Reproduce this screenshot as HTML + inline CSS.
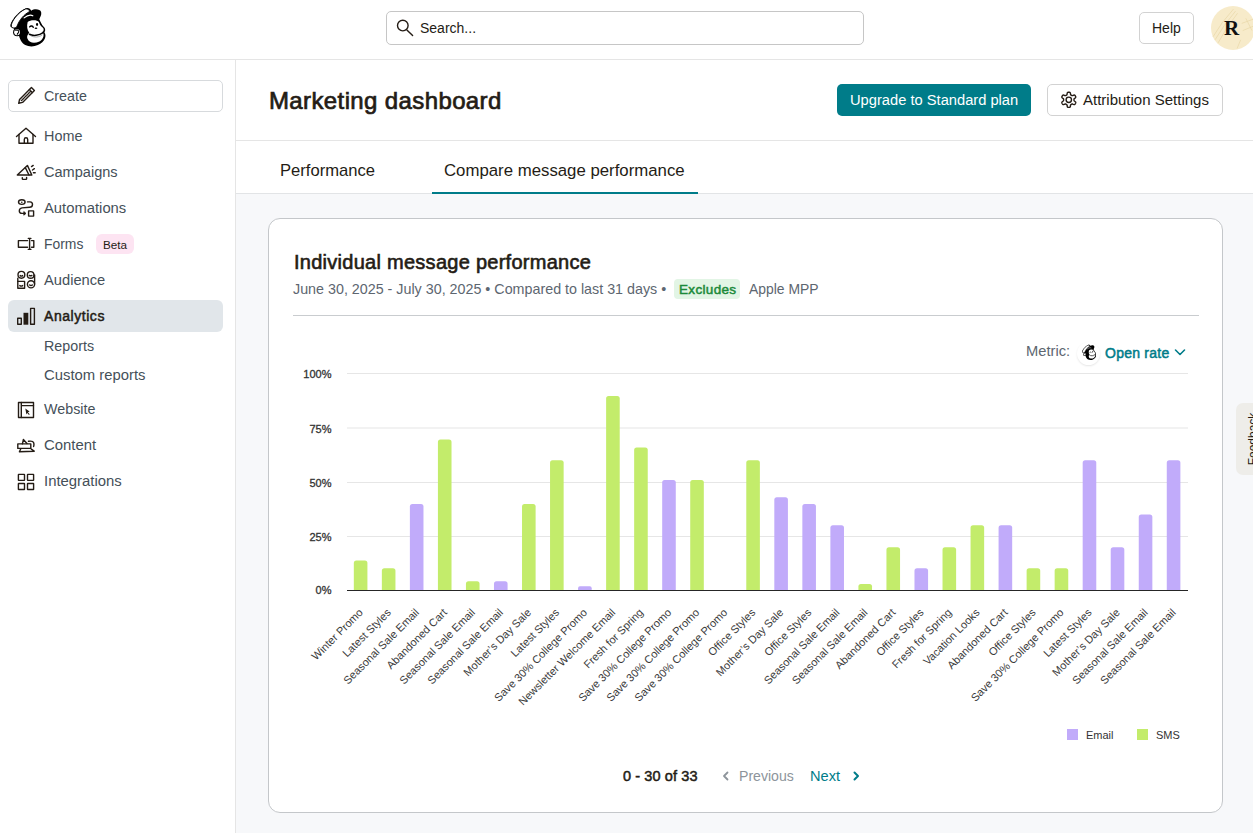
<!DOCTYPE html>
<html><head><meta charset="utf-8">
<style>
*{box-sizing:border-box;margin:0;padding:0}
html,body{width:1253px;height:833px;overflow:hidden;background:#fff;font-family:"Liberation Sans",sans-serif;color:#241c15}
.abs{position:absolute}
.t{position:absolute;white-space:nowrap;line-height:1}
</style></head><body>
<div class="abs" style="left:236px;top:194px;width:1017px;height:639px;background:#f7f8fa"></div>
<div class="abs" style="left:0px;top:59px;width:1253px;height:1px;background:#e5e5e5"></div>
<div class="abs" style="left:235px;top:60px;width:1px;height:773px;background:#e5e5e5"></div>
<div class="abs" style="left:236px;top:140px;width:1017px;height:1px;background:#e5e5e5"></div>
<div class="abs" style="left:236px;top:193px;width:1017px;height:1px;background:#e2e4e6"></div>
<div class="abs" style="left:386px;top:11px;width:478px;height:34px;border:1px solid #c6c6c6;border-radius:5px"></div>
<div class="t" style="left:420px;top:21px;font-size:14px;color:#241c15">Search...</div>
<div class="abs" style="left:1139px;top:12px;width:55px;height:32px;border:1px solid #d2d2d2;border-radius:5px"></div>
<div class="t" style="left:1152px;top:21px;font-size:14px;color:#241c15">Help</div>
<div class="abs" style="left:1211px;top:6px;width:44px;height:44px;border-radius:50%;background:#f7ebca"></div>
<div class="abs" style="left:1210px;top:6px;width:43px;height:43px;border-radius:50%;overflow:hidden;background:transparent"></div>
<svg class="abs" style="left:1211px;top:6px" width="44" height="44" viewBox="0 0 43 43"><g fill="none" stroke="#e9d8a8" stroke-width="0.7"><path d="M2 30 Q10 16 22 3"/><path d="M4 33 Q12 19 24 5"/><path d="M7 36 Q14 22 26 7"/><path d="M30 17 L41 13 M34 12 L40 24 M31 24 L42 19.5"/><path d="M25.5 41.5 L29 33"/></g></svg>
<div class="t" style="left:1224px;top:18px;font-size:21px;color:#111;font-weight:bold;font-family:'Liberation Serif',serif">R</div>
<div class="t" style="left:269px;top:89px;font-size:24px;color:#241c15;letter-spacing:0.38px;-webkit-text-stroke:0.7px #241c15">Marketing dashboard</div>
<div class="abs" style="left:837px;top:84px;width:194px;height:32px;border-radius:5px;background:#007c89"></div>
<div class="t" style="left:850px;top:93px;font-size:14.7px;color:#fff">Upgrade to Standard plan</div>
<div class="abs" style="left:1047px;top:84px;width:176px;height:32px;border:1px solid #d2d2d2;border-radius:5px;background:#fff"></div>
<div class="t" style="left:1083px;top:92px;font-size:15px;color:#241c15">Attribution Settings</div>
<div class="t" style="left:280px;top:163px;font-size:16.6px;color:#241c15">Performance</div>
<div class="t" style="left:444px;top:163px;font-size:16.8px;color:#241c15">Compare message performance</div>
<div class="abs" style="left:432px;top:192px;width:266px;height:2px;background:#007c89"></div>
<div class="abs" style="left:8px;top:80px;width:215px;height:32px;border:1px solid #d7dadd;border-radius:5px"></div>
<div class="abs" style="left:8px;top:300px;width:215px;height:32px;border-radius:6px;background:#e1e6ea"></div>
<div class="t" style="left:44px;top:89px;font-size:14.3px;color:#455059">Create</div>
<div class="t" style="left:44px;top:129px;font-size:14.4px;color:#455059">Home</div>
<div class="t" style="left:44px;top:165px;font-size:14.55px;color:#455059">Campaigns</div>
<div class="t" style="left:44px;top:201px;font-size:14.8px;color:#455059">Automations</div>
<div class="t" style="left:44px;top:238px;font-size:13.9px;color:#455059">Forms</div>
<div class="t" style="left:44px;top:273px;font-size:14.7px;color:#455059">Audience</div>
<div class="t" style="left:44px;top:339px;font-size:14.3px;color:#455059">Reports</div>
<div class="t" style="left:44px;top:368px;font-size:14.85px;color:#455059">Custom reports</div>
<div class="t" style="left:44px;top:402px;font-size:14.3px;color:#455059">Website</div>
<div class="t" style="left:44px;top:438px;font-size:14.9px;color:#455059">Content</div>
<div class="t" style="left:44px;top:474px;font-size:14.9px;color:#455059">Integrations</div>
<div class="t" style="left:44px;top:309px;font-size:14px;color:#241c15;letter-spacing:0.55px;-webkit-text-stroke:0.5px #241c15">Analytics</div>
<div class="abs" style="left:96px;top:234px;width:38px;height:20px;border-radius:6px;background:#fde4f2"></div>
<div class="t" style="left:103px;top:239px;font-size:11.7px;color:#241c15">Beta</div>
<div class="abs" style="left:268px;top:218px;width:955px;height:595px;background:#fff;border:1px solid #c4c7ca;border-radius:12px"></div>
<div class="t" style="left:294px;top:252px;font-size:20px;color:#241c15;letter-spacing:0.27px;-webkit-text-stroke:0.6px #241c15">Individual message performance</div>
<div class="t" style="left:293px;top:282px;font-size:14.3px;color:#5d6670">June 30, 2025 - July 30, 2025 &bull; Compared to last 31 days &bull;</div>
<div class="abs" style="left:674px;top:279px;width:66px;height:20px;border-radius:4px;background:#e2f5e5"></div>
<div class="t" style="left:679px;top:283px;font-size:13.5px;color:#1b8a3a;letter-spacing:0.33px;-webkit-text-stroke:0.5px #1b8a3a">Excludes</div>
<div class="t" style="left:749px;top:283px;font-size:13.9px;color:#5d6670">Apple MPP</div>
<div class="abs" style="left:293px;top:315px;width:906px;height:1px;background:#c9cccf"></div>
<div class="t" style="left:1026px;top:344px;font-size:14.7px;color:#5d6670">Metric:</div>
<div class="abs" style="left:1077px;top:342px;width:23px;height:23px;border-radius:50%;background:#fff;box-shadow:0 1px 2px rgba(0,0,0,0.10)"></div>
<div class="t" style="left:1105px;top:346px;font-size:14px;color:#007c89;letter-spacing:0.24px;-webkit-text-stroke:0.5px #007c89">Open rate</div>
<div class="abs" style="left:1067px;top:729px;width:11px;height:11px;background:#c1abfa"></div>
<div class="t" style="left:1086px;top:730px;font-size:11px;color:#333">Email</div>
<div class="abs" style="left:1137px;top:729px;width:11px;height:11px;background:#c3ec6b"></div>
<div class="t" style="left:1156px;top:730px;font-size:11px;color:#333">SMS</div>
<div class="t" style="left:623px;top:769px;font-size:14.5px;color:#241c15;letter-spacing:0.1px;-webkit-text-stroke:0.5px #241c15">0 - 30 of 33</div>
<div class="t" style="left:739px;top:769px;font-size:14.1px;color:#8d949b">Previous</div>
<div class="t" style="left:810px;top:769px;font-size:14.6px;color:#007c89">Next</div>
<div class="abs" style="left:1236px;top:403px;width:30px;height:72px;border-radius:7px;background:#eeede9"></div>
<div class="t" style="left:1202.5px;top:432.5px;font-size:12px;color:#241c15;width:100px;text-align:center;transform:rotate(-90deg)">Feedback</div>
<svg class="abs" style="left:0;top:0" width="1253" height="833" viewBox="0 0 1253 833" font-family="Liberation Sans, sans-serif"><circle cx="402.8" cy="25.6" r="5.3" fill="none" stroke="#241c15" stroke-width="1.4" stroke-linecap="round" stroke-linejoin="round" stroke-width="1.6"/><path d="M406.9 29.9 L412.6 35.6" fill="none" stroke="#241c15" stroke-width="1.4" stroke-linecap="round" stroke-linejoin="round" stroke-width="1.7"/>
<path d="M1074.00 99.80 L1074.00 100.03 L1074.00 100.26 L1074.03 100.49 L1074.13 100.74 L1074.43 101.05 L1074.98 101.46 L1075.51 101.91 L1075.74 102.33 L1075.75 102.68 L1075.67 103.00 L1075.54 103.31 L1075.38 103.60 L1075.21 103.88 L1075.01 104.15 L1074.77 104.38 L1074.46 104.55 L1073.99 104.55 L1073.33 104.33 L1072.70 104.05 L1072.28 103.95 L1072.01 103.98 L1071.80 104.08 L1071.60 104.19 L1071.40 104.30 L1071.20 104.42 L1071.01 104.53 L1070.82 104.67 L1070.65 104.89 L1070.53 105.30 L1070.46 105.98 L1070.32 106.67 L1070.08 107.07 L1069.78 107.26 L1069.46 107.35 L1069.13 107.39 L1068.80 107.40 L1068.47 107.39 L1068.14 107.35 L1067.82 107.26 L1067.52 107.07 L1067.28 106.67 L1067.14 105.98 L1067.07 105.30 L1066.95 104.89 L1066.78 104.67 L1066.59 104.53 L1066.40 104.42 L1066.20 104.30 L1066.00 104.19 L1065.80 104.08 L1065.59 103.98 L1065.32 103.95 L1064.90 104.05 L1064.27 104.33 L1063.61 104.55 L1063.14 104.55 L1062.83 104.38 L1062.59 104.15 L1062.39 103.88 L1062.22 103.60 L1062.06 103.31 L1061.93 103.00 L1061.85 102.68 L1061.86 102.33 L1062.09 101.91 L1062.62 101.46 L1063.17 101.05 L1063.47 100.74 L1063.57 100.49 L1063.60 100.26 L1063.60 100.03 L1063.60 99.80 L1063.60 99.57 L1063.60 99.34 L1063.57 99.11 L1063.47 98.86 L1063.17 98.55 L1062.62 98.14 L1062.09 97.69 L1061.86 97.27 L1061.85 96.92 L1061.93 96.60 L1062.06 96.29 L1062.22 96.00 L1062.39 95.72 L1062.59 95.45 L1062.83 95.22 L1063.14 95.05 L1063.61 95.05 L1064.27 95.27 L1064.90 95.55 L1065.32 95.65 L1065.59 95.62 L1065.80 95.52 L1066.00 95.41 L1066.20 95.30 L1066.40 95.18 L1066.59 95.07 L1066.78 94.93 L1066.95 94.71 L1067.07 94.30 L1067.14 93.62 L1067.28 92.93 L1067.52 92.53 L1067.82 92.34 L1068.14 92.25 L1068.47 92.21 L1068.80 92.20 L1069.13 92.21 L1069.46 92.25 L1069.78 92.34 L1070.08 92.53 L1070.32 92.93 L1070.46 93.62 L1070.53 94.30 L1070.65 94.71 L1070.82 94.93 L1071.01 95.07 L1071.20 95.18 L1071.40 95.30 L1071.60 95.41 L1071.80 95.52 L1072.01 95.62 L1072.28 95.65 L1072.70 95.55 L1073.33 95.27 L1073.99 95.05 L1074.46 95.05 L1074.77 95.22 L1075.01 95.45 L1075.21 95.72 L1075.38 96.00 L1075.54 96.29 L1075.67 96.60 L1075.75 96.92 L1075.74 97.27 L1075.51 97.69 L1074.98 98.14 L1074.43 98.55 L1074.13 98.86 L1074.03 99.11 L1074.00 99.34 L1074.00 99.57 Z" fill="none" stroke="#241c15" stroke-width="1.4" stroke-linecap="round" stroke-linejoin="round" stroke-width="1.6"/><circle cx="1068.8" cy="99.8" r="2.7" fill="none" stroke="#241c15" stroke-width="1.4" stroke-linecap="round" stroke-linejoin="round" stroke-width="1.6"/>
<path d="M1175.5 350 L1180 354.5 L1184.5 350" fill="none" stroke="#007c89" stroke-width="1.6" stroke-linecap="round" stroke-linejoin="round"/>
<path d="M727.5 772.5 L724 776 L727.5 779.5" fill="none" stroke="#8d949b" stroke-width="1.8" stroke-linecap="round" stroke-linejoin="round"/>
<path d="M854.5 772.5 L858 776 L854.5 779.5" fill="none" stroke="#007c89" stroke-width="2" stroke-linecap="round" stroke-linejoin="round"/>
<g transform="translate(26 96) rotate(-45)"><path d="M-10.3 0 L-7 -2.1 H9.8 V2.1 H-7 Z" fill="none" stroke="#241c15" stroke-width="1.4" stroke-linecap="round" stroke-linejoin="round" stroke-width="1.2"/><path d="M7 -2.1 V2.1 M-6.5 0 H6.5" fill="none" stroke="#241c15" stroke-width="1.4" stroke-linecap="round" stroke-linejoin="round" stroke-width="0.9" stroke-dasharray="1 1"/></g>
<path d="M16.5 136.5 L26 128.2 L35.5 136.5" fill="none" stroke="#241c15" stroke-width="1.4" stroke-linecap="round" stroke-linejoin="round"/><path d="M19 134.5 V143.3 H33 V134.5" fill="none" stroke="#241c15" stroke-width="1.4" stroke-linecap="round" stroke-linejoin="round"/><path d="M24.3 143.3 V139.4 A1.7 1.7 0 0 1 27.7 139.4 V143.3" fill="none" stroke="#241c15" stroke-width="1.4" stroke-linecap="round" stroke-linejoin="round" stroke-width="1.3"/>
<path d="M17.3 175 L27.4 165.4 L31.8 175 Z" fill="none" stroke="#241c15" stroke-width="1.4" stroke-linecap="round" stroke-linejoin="round"/><path d="M25.3 167.6 L29 175" fill="none" stroke="#241c15" stroke-width="1.4" stroke-linecap="round" stroke-linejoin="round" stroke-width="1.2"/><path d="M22.3 177.6 V178.8 Q22.3 179.4 23 179.4 H26 Q26.6 179.4 26.6 178.8 V177.4" fill="none" stroke="#241c15" stroke-width="1.4" stroke-linecap="round" stroke-linejoin="round" stroke-width="1.2"/><path d="M31.5 166.6 L33.2 165.4 M32.5 170 L34.4 168.7 M33.4 172.7 H35.2" fill="none" stroke="#241c15" stroke-width="1.4" stroke-linecap="round" stroke-linejoin="round" stroke-width="1.2"/>
<ellipse cx="21.8" cy="202.1" rx="3.3" ry="2.3" fill="none" stroke="#241c15" stroke-width="1.4" stroke-linecap="round" stroke-linejoin="round" stroke-width="1.3"/><circle cx="21.8" cy="202.3" r="0.8" fill="#241c15"/><path d="M27.5 201.9 H30 Q32.6 202 32.5 204.6 Q32.3 207.2 29.6 207.3 L22 207.9 Q19.3 208.3 19.3 211 Q19.3 213.4 22 213.4 H24.5" fill="none" stroke="#241c15" stroke-width="1.4" stroke-linecap="round" stroke-linejoin="round" stroke-width="1.3"/><path d="M23.8 211.6 L26 213.4 L23.8 215.2 Z" fill="#241c15" stroke="#241c15" stroke-width="0.8" stroke-linejoin="round"/><rect x="28.6" y="210.9" width="5" height="5.2" fill="none" stroke="#241c15" stroke-width="1.4" stroke-linecap="round" stroke-linejoin="round" stroke-width="1.3"/>
<path d="M27.6 240.6 H18.4 V247.2 H27.6" fill="none" stroke="#241c15" stroke-width="1.4" stroke-linecap="round" stroke-linejoin="round" stroke-width="1.4"/><path d="M29.6 238.6 V249.2 M28.3 238.4 H30.9 M28.3 249.4 H30.9" fill="none" stroke="#241c15" stroke-width="1.4" stroke-linecap="round" stroke-linejoin="round" stroke-width="1.2"/><path d="M31.5 240.6 H33.8 V247.2 H31.5" fill="none" stroke="#241c15" stroke-width="1.4" stroke-linecap="round" stroke-linejoin="round" stroke-width="1.4"/>
<circle cx="21.4" cy="274.8" r="3.4" fill="none" stroke="#241c15" stroke-width="1.4" stroke-linecap="round" stroke-linejoin="round" stroke-width="1.3"/><circle cx="30.6" cy="274.9" r="3.3" fill="none" stroke="#241c15" stroke-width="1.4" stroke-linecap="round" stroke-linejoin="round" stroke-width="1.3"/><rect x="17.8" y="281.4" width="6.8" height="6.8" fill="none" stroke="#241c15" stroke-width="1.4" stroke-linecap="round" stroke-linejoin="round" stroke-width="1.3"/><circle cx="31" cy="284.3" r="3.6" fill="none" stroke="#241c15" stroke-width="1.4" stroke-linecap="round" stroke-linejoin="round" stroke-width="1.3"/><path d="M20.2 275.6 Q21.4 276.6 22.6 275.6 M29.3 275.4 Q30.6 276.2 31.9 275.4 M19.8 285.6 Q21.2 286.6 22.6 285.6 M29.6 285 Q31 286 32.4 285" fill="none" stroke="#241c15" stroke-width="1.4" stroke-linecap="round" stroke-linejoin="round" stroke-width="1"/><path d="M17.8 278.2 V281.4 M34.6 274.9 V284" fill="none" stroke="#241c15" stroke-width="1.4" stroke-linecap="round" stroke-linejoin="round" stroke-width="1.2"/>
<rect x="17.7" y="318.3" width="3.6" height="6" fill="none" stroke="#241c15" stroke-width="1.4" stroke-linecap="round" stroke-linejoin="round" stroke-width="1.3" stroke-linejoin="miter"/><rect x="23.5" y="312.8" width="4.8" height="11.9" fill="#241c15"/><rect x="30.6" y="308.4" width="3.8" height="15.9" fill="none" stroke="#241c15" stroke-width="1.4" stroke-linecap="round" stroke-linejoin="round" stroke-width="1.3" stroke-linejoin="miter"/>
<rect x="18.5" y="402.5" width="15" height="15" fill="none" stroke="#241c15" stroke-width="1.4" stroke-linecap="round" stroke-linejoin="round" stroke-width="1.4"/><path d="M21.3 402.5 V417.5 M21.3 405.6 H33.5" fill="none" stroke="#241c15" stroke-width="1.4" stroke-linecap="round" stroke-linejoin="round" stroke-width="1.3"/><path d="M25.3 408.4 L29.6 411.6 L27.9 412.3 L29.7 414.3 L29 414.9 L27.2 412.9 L26.4 414.4 Z" fill="#241c15"/>
<rect x="17.8" y="443.9" width="13" height="4.5" fill="none" stroke="#241c15" stroke-width="1.4" stroke-linecap="round" stroke-linejoin="round" stroke-width="1.4"/><path d="M22.4 443.8 L23.4 439.5 L27 443.5" fill="none" stroke="#241c15" stroke-width="1.4" stroke-linecap="round" stroke-linejoin="round" stroke-width="1.3"/><path d="M28.5 441.3 Q33 440.5 33.8 443 Q34.2 445 33.6 446.6" fill="none" stroke="#241c15" stroke-width="1.4" stroke-linecap="round" stroke-linejoin="round" stroke-width="1.2"/><path d="M20.6 449.2 L19.4 451.8 L34.2 451.2 L31.3 449.2" fill="none" stroke="#241c15" stroke-width="1.4" stroke-linecap="round" stroke-linejoin="round" stroke-width="1.3"/>
<rect x="18.4" y="474.4" width="6.1" height="6" fill="none" stroke="#241c15" stroke-width="1.4" stroke-linecap="round" stroke-linejoin="round" stroke-width="1.4" rx="0.3"/>
<rect x="27.5" y="474.4" width="6.1" height="6" fill="none" stroke="#241c15" stroke-width="1.4" stroke-linecap="round" stroke-linejoin="round" stroke-width="1.4" rx="0.3"/>
<rect x="18.4" y="483.5" width="6.1" height="6" fill="none" stroke="#241c15" stroke-width="1.4" stroke-linecap="round" stroke-linejoin="round" stroke-width="1.4" rx="0.3"/>
<rect x="27.5" y="483.5" width="6.1" height="6" fill="none" stroke="#241c15" stroke-width="1.4" stroke-linecap="round" stroke-linejoin="round" stroke-width="1.4" rx="0.3"/>
<rect x="347" y="373.0" width="841" height="1" fill="#e6e6e6"/>
<rect x="347" y="427.5" width="841" height="1" fill="#e6e6e6"/>
<rect x="347" y="482.0" width="841" height="1" fill="#e6e6e6"/>
<rect x="347" y="536.0" width="841" height="1" fill="#e6e6e6"/>
<path d="M353.82 590.0 V562.90 Q353.82 560.40 356.32 560.40 H364.92 Q367.42 560.40 367.42 562.90 V590.0 Z" fill="#c3ec6b"/>
<path d="M381.85 590.0 V570.80 Q381.85 568.30 384.35 568.30 H392.95 Q395.45 568.30 395.45 570.80 V590.0 Z" fill="#c3ec6b"/>
<path d="M409.88 590.0 V506.60 Q409.88 504.10 412.38 504.10 H420.98 Q423.48 504.10 423.48 506.60 V590.0 Z" fill="#c1abfa"/>
<path d="M437.92 590.0 V441.90 Q437.92 439.40 440.42 439.40 H449.02 Q451.52 439.40 451.52 441.90 V590.0 Z" fill="#c3ec6b"/>
<path d="M465.95 590.0 V583.70 Q465.95 581.20 468.45 581.20 H477.05 Q479.55 581.20 479.55 583.70 V590.0 Z" fill="#c3ec6b"/>
<path d="M493.98 590.0 V583.70 Q493.98 581.20 496.48 581.20 H505.08 Q507.58 581.20 507.58 583.70 V590.0 Z" fill="#c1abfa"/>
<path d="M522.02 590.0 V506.60 Q522.02 504.10 524.52 504.10 H533.12 Q535.62 504.10 535.62 506.60 V590.0 Z" fill="#c3ec6b"/>
<path d="M550.05 590.0 V462.80 Q550.05 460.30 552.55 460.30 H561.15 Q563.65 460.30 563.65 462.80 V590.0 Z" fill="#c3ec6b"/>
<path d="M578.08 590.0 V588.15 Q578.08 586.30 579.93 586.30 H589.83 Q591.68 586.30 591.68 588.15 V590.0 Z" fill="#c1abfa"/>
<path d="M606.12 590.0 V398.60 Q606.12 396.10 608.62 396.10 H617.22 Q619.72 396.10 619.72 398.60 V590.0 Z" fill="#c3ec6b"/>
<path d="M634.15 590.0 V449.90 Q634.15 447.40 636.65 447.40 H645.25 Q647.75 447.40 647.75 449.90 V590.0 Z" fill="#c3ec6b"/>
<path d="M662.18 590.0 V482.60 Q662.18 480.10 664.68 480.10 H673.28 Q675.78 480.10 675.78 482.60 V590.0 Z" fill="#c1abfa"/>
<path d="M690.22 590.0 V482.60 Q690.22 480.10 692.72 480.10 H701.32 Q703.82 480.10 703.82 482.60 V590.0 Z" fill="#c3ec6b"/>
<path d="M746.28 590.0 V462.80 Q746.28 460.30 748.78 460.30 H757.38 Q759.88 460.30 759.88 462.80 V590.0 Z" fill="#c3ec6b"/>
<path d="M774.32 590.0 V499.80 Q774.32 497.30 776.82 497.30 H785.42 Q787.92 497.30 787.92 499.80 V590.0 Z" fill="#c1abfa"/>
<path d="M802.35 590.0 V506.60 Q802.35 504.10 804.85 504.10 H813.45 Q815.95 504.10 815.95 506.60 V590.0 Z" fill="#c1abfa"/>
<path d="M830.38 590.0 V527.80 Q830.38 525.30 832.88 525.30 H841.48 Q843.98 525.30 843.98 527.80 V590.0 Z" fill="#c1abfa"/>
<path d="M858.42 590.0 V586.60 Q858.42 584.10 860.92 584.10 H869.52 Q872.02 584.10 872.02 586.60 V590.0 Z" fill="#c3ec6b"/>
<path d="M886.45 590.0 V549.70 Q886.45 547.20 888.95 547.20 H897.55 Q900.05 547.20 900.05 549.70 V590.0 Z" fill="#c3ec6b"/>
<path d="M914.48 590.0 V570.80 Q914.48 568.30 916.98 568.30 H925.58 Q928.08 568.30 928.08 570.80 V590.0 Z" fill="#c1abfa"/>
<path d="M942.52 590.0 V549.70 Q942.52 547.20 945.02 547.20 H953.62 Q956.12 547.20 956.12 549.70 V590.0 Z" fill="#c3ec6b"/>
<path d="M970.55 590.0 V527.80 Q970.55 525.30 973.05 525.30 H981.65 Q984.15 525.30 984.15 527.80 V590.0 Z" fill="#c3ec6b"/>
<path d="M998.58 590.0 V527.80 Q998.58 525.30 1001.08 525.30 H1009.68 Q1012.18 525.30 1012.18 527.80 V590.0 Z" fill="#c1abfa"/>
<path d="M1026.62 590.0 V570.80 Q1026.62 568.30 1029.12 568.30 H1037.72 Q1040.22 568.30 1040.22 570.80 V590.0 Z" fill="#c3ec6b"/>
<path d="M1054.65 590.0 V570.80 Q1054.65 568.30 1057.15 568.30 H1065.75 Q1068.25 568.30 1068.25 570.80 V590.0 Z" fill="#c3ec6b"/>
<path d="M1082.68 590.0 V462.80 Q1082.68 460.30 1085.18 460.30 H1093.78 Q1096.28 460.30 1096.28 462.80 V590.0 Z" fill="#c1abfa"/>
<path d="M1110.72 590.0 V549.70 Q1110.72 547.20 1113.22 547.20 H1121.82 Q1124.32 547.20 1124.32 549.70 V590.0 Z" fill="#c1abfa"/>
<path d="M1138.75 590.0 V516.90 Q1138.75 514.40 1141.25 514.40 H1149.85 Q1152.35 514.40 1152.35 516.90 V590.0 Z" fill="#c1abfa"/>
<path d="M1166.78 590.0 V462.80 Q1166.78 460.30 1169.28 460.30 H1177.88 Q1180.38 460.30 1180.38 462.80 V590.0 Z" fill="#c1abfa"/>
<rect x="347" y="590" width="841" height="1" fill="#262626"/>
<text x="331.5" y="378.4" text-anchor="end" font-size="11" fill="#333" stroke="#333" stroke-width="0.3">100%</text>
<text x="331.5" y="432.9" text-anchor="end" font-size="11" fill="#333" stroke="#333" stroke-width="0.3">75%</text>
<text x="331.5" y="487.4" text-anchor="end" font-size="11" fill="#333" stroke="#333" stroke-width="0.3">50%</text>
<text x="331.5" y="541.4" text-anchor="end" font-size="11" fill="#333" stroke="#333" stroke-width="0.3">25%</text>
<text x="331.5" y="594.4" text-anchor="end" font-size="11" fill="#333" stroke="#333" stroke-width="0.3">0%</text>
<text transform="translate(363.62 613.2) rotate(-45)" text-anchor="end" font-size="11" fill="#3a3a3a">Winter Promo</text>
<text transform="translate(391.65 613.2) rotate(-45)" text-anchor="end" font-size="11" fill="#3a3a3a">Latest Styles</text>
<text transform="translate(419.68 613.2) rotate(-45)" text-anchor="end" font-size="11" fill="#3a3a3a">Seasonal Sale Email</text>
<text transform="translate(447.72 613.2) rotate(-45)" text-anchor="end" font-size="11" fill="#3a3a3a">Abandoned Cart</text>
<text transform="translate(475.75 613.2) rotate(-45)" text-anchor="end" font-size="11" fill="#3a3a3a">Seasonal Sale Email</text>
<text transform="translate(503.78 613.2) rotate(-45)" text-anchor="end" font-size="11" fill="#3a3a3a">Seasonal Sale Email</text>
<text transform="translate(531.82 613.2) rotate(-45)" text-anchor="end" font-size="11" fill="#3a3a3a">Mother&#8217;s Day Sale</text>
<text transform="translate(559.85 613.2) rotate(-45)" text-anchor="end" font-size="11" fill="#3a3a3a">Latest Styles</text>
<text transform="translate(587.88 613.2) rotate(-45)" text-anchor="end" font-size="11" fill="#3a3a3a">Save 30% College Promo</text>
<text transform="translate(615.92 613.2) rotate(-45)" text-anchor="end" font-size="11" fill="#3a3a3a">Newsletter Welcome Email</text>
<text transform="translate(643.95 613.2) rotate(-45)" text-anchor="end" font-size="11" fill="#3a3a3a">Fresh for Spring</text>
<text transform="translate(671.98 613.2) rotate(-45)" text-anchor="end" font-size="11" fill="#3a3a3a">Save 30% College Promo</text>
<text transform="translate(700.02 613.2) rotate(-45)" text-anchor="end" font-size="11" fill="#3a3a3a">Save 30% College Promo</text>
<text transform="translate(728.05 613.2) rotate(-45)" text-anchor="end" font-size="11" fill="#3a3a3a">Save 30% College Promo</text>
<text transform="translate(756.08 613.2) rotate(-45)" text-anchor="end" font-size="11" fill="#3a3a3a">Office Styles</text>
<text transform="translate(784.12 613.2) rotate(-45)" text-anchor="end" font-size="11" fill="#3a3a3a">Mother&#8217;s Day Sale</text>
<text transform="translate(812.15 613.2) rotate(-45)" text-anchor="end" font-size="11" fill="#3a3a3a">Office Styles</text>
<text transform="translate(840.18 613.2) rotate(-45)" text-anchor="end" font-size="11" fill="#3a3a3a">Seasonal Sale Email</text>
<text transform="translate(868.22 613.2) rotate(-45)" text-anchor="end" font-size="11" fill="#3a3a3a">Seasonal Sale Email</text>
<text transform="translate(896.25 613.2) rotate(-45)" text-anchor="end" font-size="11" fill="#3a3a3a">Abandoned Cart</text>
<text transform="translate(924.28 613.2) rotate(-45)" text-anchor="end" font-size="11" fill="#3a3a3a">Office Styles</text>
<text transform="translate(952.32 613.2) rotate(-45)" text-anchor="end" font-size="11" fill="#3a3a3a">Fresh for Spring</text>
<text transform="translate(980.35 613.2) rotate(-45)" text-anchor="end" font-size="11" fill="#3a3a3a">Vacation Looks</text>
<text transform="translate(1008.38 613.2) rotate(-45)" text-anchor="end" font-size="11" fill="#3a3a3a">Abandoned Cart</text>
<text transform="translate(1036.42 613.2) rotate(-45)" text-anchor="end" font-size="11" fill="#3a3a3a">Office Styles</text>
<text transform="translate(1064.45 613.2) rotate(-45)" text-anchor="end" font-size="11" fill="#3a3a3a">Save 30% College Promo</text>
<text transform="translate(1092.48 613.2) rotate(-45)" text-anchor="end" font-size="11" fill="#3a3a3a">Latest Styles</text>
<text transform="translate(1120.52 613.2) rotate(-45)" text-anchor="end" font-size="11" fill="#3a3a3a">Mother&#8217;s Day Sale</text>
<text transform="translate(1148.55 613.2) rotate(-45)" text-anchor="end" font-size="11" fill="#3a3a3a">Seasonal Sale Email</text>
<text transform="translate(1176.58 613.2) rotate(-45)" text-anchor="end" font-size="11" fill="#3a3a3a">Seasonal Sale Email</text></svg>
<svg class="abs" style="left:8px;top:6px" width="42" height="44" viewBox="0 0 795 833">
<path d="M45 385 C35 300 180 110 330 45 C385 25 425 55 440 88 C500 48 610 55 628 118 C640 170 605 215 592 250 C615 295 640 360 675 395 C718 435 705 480 690 500 C735 560 705 675 565 740 C450 790 300 765 245 660 C225 620 215 590 210 570 L110 420 C80 415 55 410 45 385 Z" fill="#000"/>
<circle cx="174" cy="497" r="78" fill="#000"/>
<path d="M62 380 C54 300 196 112 330 58 C370 44 400 70 412 102 C305 160 215 255 165 398 C122 430 72 420 62 380 Z" fill="#fff" stroke="#000" stroke-width="18"/>
<path d="M372 305 C420 255 555 255 585 305 C598 345 615 378 655 405 C690 435 675 478 645 492 C695 525 680 625 595 670 C500 715 405 700 372 625 C345 565 385 525 402 505 C362 462 352 380 372 305 Z" fill="#fff"/>
<path d="M305 225 C360 180 430 165 470 185" fill="none" stroke="#fff" stroke-width="22" stroke-linecap="round"/>
<circle cx="172" cy="497" r="55" fill="#fff"/>
<path d="M140 468 C165 440 215 458 202 498 C192 522 172 515 176 545" fill="none" stroke="#000" stroke-width="20"/>
<path d="M410 395 C430 370 470 375 478 405" fill="none" stroke="#000" stroke-width="26" stroke-linecap="round"/>
<ellipse cx="550" cy="350" rx="20" ry="28" fill="#000"/>
<ellipse cx="530" cy="420" rx="26" ry="14" fill="#000"/>
<path d="M405 535 C470 572 590 562 665 505" fill="none" stroke="#000" stroke-width="28" stroke-linecap="round"/>
<path d="M435 565 C500 602 595 592 645 550" fill="none" stroke="#999" stroke-width="16" stroke-linecap="round"/>
</svg>
<svg class="abs" style="left:1081px;top:343.8px" width="17" height="17.5" viewBox="0 0 795 833">
<path d="M45 385 C35 300 180 110 330 45 C385 25 425 55 440 88 C500 48 610 55 628 118 C640 170 605 215 592 250 C615 295 640 360 675 395 C718 435 705 480 690 500 C735 560 705 675 565 740 C450 790 300 765 245 660 C225 620 215 590 210 570 L110 420 C80 415 55 410 45 385 Z" fill="#000"/>
<circle cx="174" cy="497" r="78" fill="#000"/>
<path d="M62 380 C54 300 196 112 330 58 C370 44 400 70 412 102 C305 160 215 255 165 398 C122 430 72 420 62 380 Z" fill="#fff" stroke="#000" stroke-width="18"/>
<path d="M372 305 C420 255 555 255 585 305 C598 345 615 378 655 405 C690 435 675 478 645 492 C695 525 680 625 595 670 C500 715 405 700 372 625 C345 565 385 525 402 505 C362 462 352 380 372 305 Z" fill="#fff"/>
<path d="M305 225 C360 180 430 165 470 185" fill="none" stroke="#fff" stroke-width="22" stroke-linecap="round"/>
<circle cx="172" cy="497" r="55" fill="#fff"/>
<path d="M140 468 C165 440 215 458 202 498 C192 522 172 515 176 545" fill="none" stroke="#000" stroke-width="20"/>
<path d="M410 395 C430 370 470 375 478 405" fill="none" stroke="#000" stroke-width="26" stroke-linecap="round"/>
<ellipse cx="550" cy="350" rx="20" ry="28" fill="#000"/>
<ellipse cx="530" cy="420" rx="26" ry="14" fill="#000"/>
<path d="M405 535 C470 572 590 562 665 505" fill="none" stroke="#000" stroke-width="28" stroke-linecap="round"/>
<path d="M435 565 C500 602 595 592 645 550" fill="none" stroke="#999" stroke-width="16" stroke-linecap="round"/>
</svg>
</body></html>
